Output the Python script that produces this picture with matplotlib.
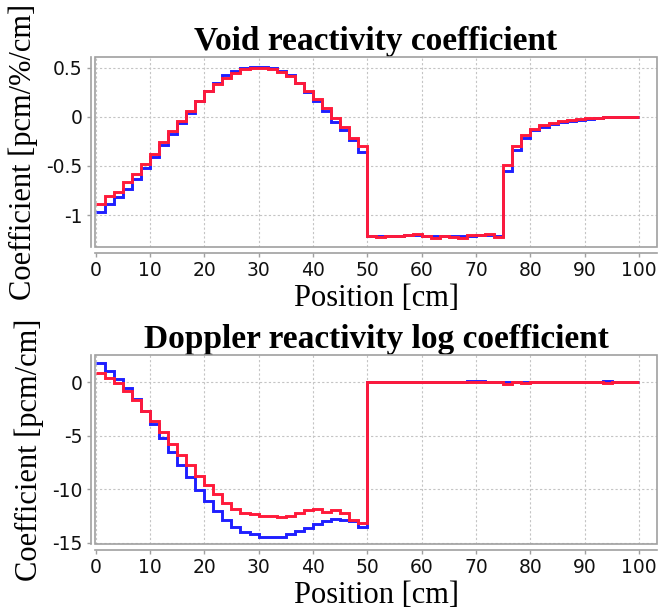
import matplotlib
matplotlib.use("Agg")
import matplotlib.pyplot as plt
import numpy as np
from matplotlib.patches import Rectangle

# bin edges along the position axis [cm] (60 bins)
edges = np.linspace(0, 100, 61)

void_blue = [
    -0.97, -0.89, -0.82, -0.73, -0.63, -0.52, -0.41, -0.29, -0.18, -0.06,
    0.04, 0.16, 0.26, 0.34, 0.42, 0.46, 0.50, 0.51, 0.51, 0.50,
    0.46, 0.42, 0.34, 0.25, 0.16, 0.06, -0.05, -0.14, -0.24, -0.36,
    -1.21, -1.21, -1.215, -1.21, -1.205, -1.205, -1.21, -1.215, -1.21, -1.21,
    -1.21, -1.21, -1.205, -1.205, -1.21,
    -0.55, -0.34, -0.22, -0.14, -0.10, -0.07, -0.05, -0.04, -0.03, -0.02,
    -0.01, -0.008, -0.005, -0.003, 0.0,
]
void_red = [
    -0.885, -0.81, -0.76, -0.66, -0.58, -0.48, -0.38, -0.26, -0.15, -0.04,
    0.06, 0.16, 0.26, 0.33, 0.39, 0.44, 0.48, 0.50, 0.49, 0.48,
    0.45, 0.41, 0.34, 0.26, 0.18, 0.09, -0.01, -0.10, -0.22, -0.30,
    -1.213, -1.223, -1.213, -1.213, -1.20, -1.19, -1.213, -1.23, -1.213, -1.223,
    -1.23, -1.205, -1.20, -1.19, -1.22,
    -0.49, -0.30, -0.19, -0.12, -0.08, -0.06, -0.04, -0.03, -0.02, -0.017,
    -0.01, -0.007, -0.005, -0.003, 0.0,
]

doppler_blue = [
    1.78, 1.09, 0.31, -0.5, -1.59, -2.66, -3.9, -5.16, -6.5, -7.69,
    -8.84, -10.1, -11.1, -12.06, -12.84, -13.47, -14.0, -14.2, -14.47, -14.47,
    -14.4, -14.2, -13.9, -13.6, -13.2, -12.97, -12.75, -12.84, -12.97, -13.47,
    0, 0, 0, 0, 0, 0, 0, 0, 0, 0,
    0, 0.12, 0.12, 0, 0, 0, 0, 0, 0, 0,
    0, 0, 0, 0, 0, 0, 0.1, 0, 0, 0,
]
doppler_red = [
    0.84, 0.375, -0.03, -0.81, -1.66, -2.66, -3.6, -4.63, -5.72, -6.81,
    -7.75, -8.75, -9.6, -10.4, -11.28, -11.8, -12.19, -12.34, -12.44, -12.53,
    -12.6, -12.44, -12.2, -11.97, -11.8, -12.1, -11.97, -12.2, -12.9, -13.16,
    0, 0, 0, 0, 0, 0, 0, 0, 0, 0,
    0, 0, 0, 0, 0, -0.16, 0, -0.1, 0, 0,
    0, 0, 0, 0, 0, 0, -0.1, 0, 0, 0,
]

x_ticks = [0, 10, 20, 30, 40, 50, 60, 70, 80, 90, 100]
void_yticks = [-1, -0.5, 0, 0.5]
void_yticklabels = ["-1", "-0.5", "0", "0.5"]
doppler_yticks = [-15, -10, -5, 0]

BLUE = "#1f1fff"
RED = "#ff1a3a"
FRAME = "#a0a0a0"
serif = ["Liberation Serif", "DejaVu Serif"]


def style_axes(ax, title, ylabel, ylim, yticks, yticklabels):
    ax.set_xlim(-0.1, 103.3)
    ax.set_ylim(*ylim)
    ax.set_xticks(x_ticks)
    ax.set_yticks(yticks)
    ax.set_yticklabels(yticklabels)
    ax.grid(True, color="#c4c4c4", linestyle=(0, (2, 2)), linewidth=0.8)
    ax.set_axisbelow(True)
    for side in ("top", "right"):
        ax.spines[side].set_visible(False)
    ax.spines["left"].set_position(("outward", 3))
    ax.spines["bottom"].set_position(("outward", 4))
    for side in ("left", "bottom"):
        ax.spines[side].set_color(FRAME)
        ax.spines[side].set_linewidth(1.2)
    ax.add_patch(Rectangle((0, 0), 1, 1, transform=ax.transAxes, fill=False,
                           edgecolor=FRAME, linewidth=1.2, clip_on=False, zorder=5))
    ax.tick_params(direction="out", length=3, width=1, color=FRAME,
                   labelsize=13.5, labelcolor="#111111", pad=3)
    ax.set_title(title, family=serif, fontweight="bold", fontsize=24, pad=3)
    ax.set_xlabel("Position [cm]", family=serif, fontsize=22, labelpad=3)
    ax.set_ylabel(ylabel, family=serif, fontsize=22, labelpad=6)


fig = plt.figure(figsize=(6.62, 6.12), dpi=100)
ax1 = fig.add_axes([0.1435, 0.5964, 0.849, 0.3105])
ax2 = fig.add_axes([0.1435, 0.1111, 0.849, 0.3088])

ax1.stairs(void_blue, edges, color=BLUE, linewidth=2.1, baseline=None)
ax1.stairs(void_red, edges, color=RED, linewidth=2.1, baseline=None)
style_axes(ax1, "Void reactivity coefficient", "Coefficient [pcm/%/cm]",
           (-1.324, 0.607), void_yticks, void_yticklabels)

ax2.stairs(doppler_blue, edges, color=BLUE, linewidth=2.1, baseline=None)
ax2.stairs(doppler_red, edges, color=RED, linewidth=2.1, baseline=None)
style_axes(ax2, "Doppler reactivity log coefficient", "Coefficient [pcm/cm]",
           (-15.1, 2.55), doppler_yticks, [str(t) for t in doppler_yticks])

fig.savefig("out.png", dpi=100)
plt.close(fig)
